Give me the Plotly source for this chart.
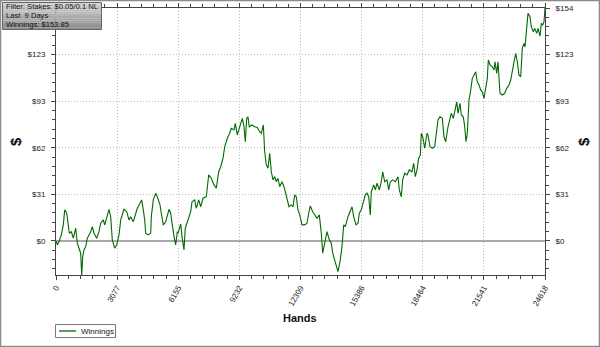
import plotly.graph_objects as go

# ---- data ----
hands = [0, 65, 151, 267, 368, 438, 539, 604, 670, 770, 871, 992, 1072, 1158, 1243, 1294, 1344, 1410, 1495, 1576,
         1661, 1747, 1827, 1913, 2049, 2165, 2250, 2381, 2452, 2552, 2668, 2754, 2834, 2955, 3056, 3172, 3257, 3423,
         3559, 3675, 3761, 3892, 4012, 4093, 4229, 4314, 4395, 4465, 4516, 4632, 4768, 4798, 4898, 5019, 5100, 5236,
         5301, 5402, 5523, 5603, 5689, 5774, 5855, 5941, 6026, 6107, 6142, 6278, 6343, 6444, 6509, 6645, 6781, 6847,
         6983, 7063, 7184, 7285, 7401, 7567, 7688, 7818, 7954, 8070, 8191, 8292, 8407, 8493, 8624, 8745, 8825, 8961,
         9027, 9127, 9213, 9298, 9379, 9465, 9530, 9601, 9666, 9731, 9867, 10003, 10134, 10255, 10336, 10436, 10507,
         10587, 10673, 10759, 10839, 10925, 11010, 11091, 11176, 11262, 11378, 11478, 11544, 11645, 11730, 11846,
         11932, 12017, 12098, 12183, 12269, 12385, 12520, 12636, 12722, 12802, 12923, 13024, 13140, 13256, 13356,
         13427, 13528, 13643, 13759, 13860, 13930, 14061, 14197, 14313, 14398, 14484, 14564, 14700, 14816, 14902,
         14987, 15103, 15204, 15269, 15370, 15491, 15572, 15657, 15743, 15823, 15874, 15995, 16075, 16161, 16277,
         16377, 16448, 16548, 16664, 16750, 16830, 16951, 17082, 17218, 17283, 17384, 17454, 17555, 17670, 17786,
         17922, 18007, 18088, 18174, 18259, 18340, 18390, 18461, 18561, 18677, 18727, 18828, 18944, 19065, 19166,
         19231, 19332, 19448, 19533, 19619, 19735, 19836, 19901, 20002, 20072, 20173, 20238, 20339, 20405, 20505,
         20576, 20641, 20707, 20792, 20878, 20959, 21044, 21130, 21210, 21296, 21381, 21462, 21547, 21633, 21714,
         21764, 21849, 21965, 22051, 22101, 22187, 22252, 22353, 22469, 22590, 22690, 22806, 22892, 22972, 23058,
         23143, 23224, 23309, 23395, 23475, 23561, 23611, 23697, 23762, 23863, 23929, 24029, 24100, 24200, 24266,
         24367, 24432, 24503, 24568, 24618]
winnings = [0, -2.6, -0.5, 4.0, 10.6, 20.5, 18.5, 12.7, 5.1, 6.1, 1.8, 8.4, -1.5, -4.8, -8.1, -22.4, -10.4, -5.9, -3.8,
            1.8, 4.0, 6.1, 9.4, 5.1, 1.8, 6.1, 11.7, 13.9, 10.6, 16.0, 20.9, 16.0, 0.7, -4.8, -2.6, 4.0, 13.9, 20.9,
            19.3, 13.9, 16.0, 12.7, 17.2, 21.6, 24.9, 27.1, 20.5, 13.9, 5.1, 4.0, 5.1, 16.0, 27.1, 31.5, 29.2, 23.8,
            18.3, 10.6, 12.7, 17.2, 20.9, 18.3, 9.4, 2.8, -2.6, 6.1, 5.1, 11.2, 2.8, -5.9, 8.4, 13.9, 19.3, 25.9,
            27.1, 21.6, 27.1, 22.6, 28.2, 29.2, 43.6, 41.4, 37.0, 34.8, 45.7, 49.0, 54.6, 62.2, 67.8, 71.1, 74.4, 73.3,
            77.7, 70.0, 73.3, 77.7, 81.0, 75.4, 65.5, 81.0, 82.0, 75.4, 76.6, 75.4, 75.0, 72.1, 71.1, 76.6, 58.9,
            50.2, 48.0, 57.9, 45.7, 40.3, 42.4, 39.1, 41.4, 35.8, 39.1, 35.8, 31.5, 27.1, 22.6, 23.8,
            22.6, 30.4, 29.2, 20.5, 17.2, 10.6, 10.6, 11.7, 18.3, 23.1, 19.3, 17.2, 15.0, 17.2, 5.1,
            -8.1, -1.5, 6.1, 0.7, -1.5, -8.1, -14.7, -20.3, -12.5, -3.8, 10.6, 9.4, 16.0, 20.5, 22.6,
            16.0, 10.6, 11.7, 18.3, 20.5, 25.9, 30.4, 31.5, 29.2, 17.2, 32.5, 37.0, 33.7, 38.1, 33.7,
            39.1, 45.7, 39.1, 40.3, 33.7, 39.1, 40.3, 39.1, 42.4, 33.7, 29.2, 40.3, 44.7, 43.6, 46.9,
            45.7, 51.3, 42.4, 46.9, 54.6, 56.8, 71.1, 68.8, 61.2, 71.1, 70.0, 62.2, 61.2, 62.2, 71.1,
            79.9, 82.0, 81.0, 68.8, 65.5, 75.4, 79.9, 84.3, 81.0, 86.5, 91.9, 84.3, 90.9, 83.2, 82.0,
            75.4, 65.5, 71.1, 93.1, 99.7, 107.4, 109.6, 111.7, 105.1, 103.0, 99.7, 98.5, 94.2, 100.8, 107.4,
            119.5, 116.2, 115.0, 112.9, 118.3, 110.7, 118.3, 97.5, 96.4, 97.5, 100.8, 103.0, 106.3, 112.9, 118.3,
            123.9, 118.3, 109.6, 108.4, 127.2, 130.5, 128.2, 140.4, 150.3, 148.1, 141.5, 138.2, 140.4, 137.1, 140.4,
            135.3, 143.7, 142.6, 144.8, 153.85]

x_tickvals = [0, 3077, 6155, 9232, 12309, 15386, 18464, 21541, 24618]
x_ticktext = ["0", "3077", "6155", "9232", "12309", "15386", "18464", "21541", "24618"]
y_tickvals = [0, 30.77, 61.54, 92.31, 123.08, 153.85]
y_ticktext = ["$0", "$31", "$62", "$93", "$123", "$154"]
info_lines = ["Filter: Stakes: $0.05/0.1 NL", "Last  9 Days", "Winnings: $153.85"]
series_name = "Winnings"
x_title = "Hands"
y_title = "$"

Y_RANGE = [-22.5, 153.85]
X_RANGE = [0, 24618]
FONT = "Liberation Sans, Arial, sans-serif"
LINE = "#006a00"
GRID_DASH = "1px,2px"

fig = go.Figure()
fig.add_trace(go.Scatter(x=hands, y=winnings, mode="lines", name=series_name,
                         line=dict(color=LINE, width=1.1)))
fig.add_trace(go.Scatter(x=[hands[0]], y=[winnings[0]], yaxis="y2", mode="lines",
                         showlegend=False, hoverinfo="skip", line=dict(color="rgba(0,0,0,0)")))

axis_common = dict(showline=True, linecolor="#444", linewidth=1, ticks="outside", ticklen=4,
                   tickcolor="#444", automargin=False,
                   tickfont=dict(size=8, color="#222", family=FONT))
minor_y = dict(tickmode="linear", tick0=0, dtick=153.85 / 25, ticks="outside",
               ticklen=3, tickcolor="#444", showgrid=False)

fig.update_layout(
    width=600, height=347,
    margin=dict(l=56, r=55, t=8, b=72, autoexpand=False),
    paper_bgcolor="white", plot_bgcolor="white",
    font=dict(family=FONT, color="#111"),
    showlegend=False,
    xaxis=dict(range=X_RANGE, tickmode="array", tickvals=x_tickvals, ticktext=x_ticktext,
               tickangle=-60, showgrid=True, gridcolor="#bdbdbd", griddash=GRID_DASH, gridwidth=1,
               zeroline=False, mirror="ticks",
               minor=dict(tickmode="linear", tick0=0, dtick=24618 / 40, ticks="outside",
                          ticklen=3, tickcolor="#444", showgrid=False),
               **axis_common),
    yaxis=dict(range=Y_RANGE, tickmode="array", tickvals=y_tickvals, ticktext=y_ticktext,
               showgrid=True, gridcolor="#bdbdbd", griddash=GRID_DASH, gridwidth=1,
               zeroline=True, zerolinecolor="#a8a8a8", zerolinewidth=1.5,
               minor=minor_y, ticklabelstandoff=4, **axis_common),
    yaxis2=dict(range=Y_RANGE, overlaying="y", side="right", tickmode="array",
                tickvals=y_tickvals, ticktext=y_ticktext, showgrid=False, zeroline=False,
                minor=minor_y, ticklabelstandoff=4, **axis_common),
)

# pixel -> paper helpers (plot area is 56..545 x 8..275)
W, H = 489.0, 267.0
def px(x):
    return (x - 56) / W
def py(y):
    return (275 - y) / H

# axis titles
title_font = dict(size=15, color="#111", family=FONT)
for xp in (15, 583):
    fig.add_annotation(xref="paper", yref="paper", x=px(xp), y=py(142), xanchor="center", yanchor="middle",
                       text="<b>" + y_title + "</b>", textangle=-90, showarrow=False, font=title_font)
fig.add_annotation(xref="paper", yref="paper", x=px(300), y=py(318), xanchor="center", yanchor="middle",
                   text="<b>" + x_title + "</b>", showarrow=False, font=dict(size=11, color="#111", family=FONT))

# outer image border
fig.add_shape(type="rect", xref="paper", yref="paper", x0=px(0.5), x1=px(599.5), y0=py(346.5), y1=py(0.5),
              line=dict(color="#8a8a8a", width=1.5), fillcolor="rgba(0,0,0,0)", layer="above")

# compact legend box (bottom-left)
fig.add_shape(type="rect", xref="paper", yref="paper", x0=px(55.5), x1=px(115.5), y0=py(337.5), y1=py(324.5),
              line=dict(color="#777", width=1), fillcolor="white")
fig.add_shape(type="line", xref="paper", yref="paper", x0=px(59), x1=px(76), y0=py(331), y1=py(331),
              line=dict(color=LINE, width=1.3))
fig.add_annotation(xref="paper", yref="paper", x=px(80), y=py(331), xanchor="left", yanchor="middle",
                   text=series_name, showarrow=False, font=dict(size=8, color="#111", family=FONT), borderpad=0)

# info box with a faux vertical gradient
n = 12
top, bot = 2.5, 29.5
for i in range(n):
    y0 = top + (bot - top) * i / n
    y1 = top + (bot - top) * (i + 1) / n
    g = int(210 - (210 - 140) * i / (n - 1))
    fig.add_shape(type="rect", xref="paper", yref="paper", x0=px(2.5), x1=px(101.5),
                  y0=py(y1), y1=py(y0), line=dict(width=0),
                  fillcolor=f"rgb({g},{g},{g})", layer="above")
fig.add_shape(type="rect", xref="paper", yref="paper", x0=px(2.5), x1=px(101.5), y0=py(bot), y1=py(top),
              line=dict(color="#666", width=1), fillcolor="rgba(0,0,0,0)", layer="above")
for i, line in enumerate(info_lines):
    fig.add_annotation(xref="paper", yref="paper", x=px(4.5), y=py(6.5 + 9 * i), xanchor="left",
                       yanchor="middle", text=line, showarrow=False, align="left",
                       font=dict(size=7.6, color="#111", family=FONT), borderpad=0)

fig.write_html("out.html", config={"displayModeBar": False},
               post_script="document.body.style.margin='0';document.body.style.padding='0';")
